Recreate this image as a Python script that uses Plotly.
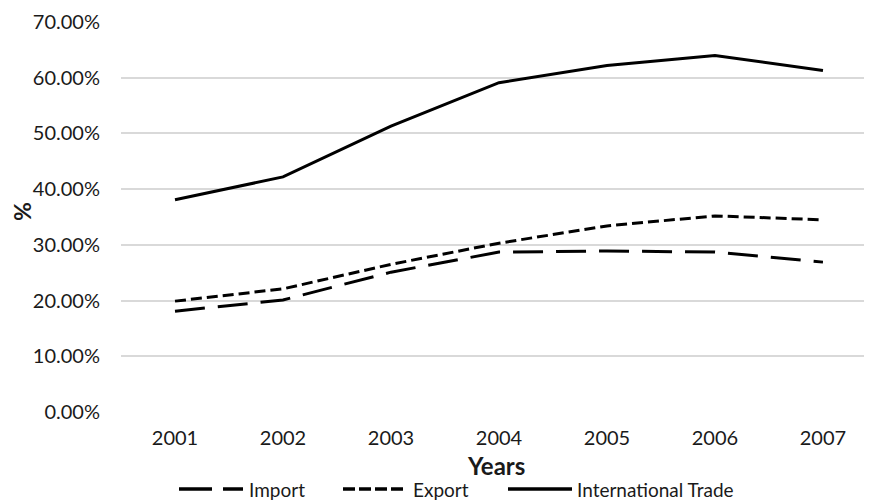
import plotly.graph_objects as go

years = [2001, 2002, 2003, 2004, 2005, 2006, 2007]
import_vals = [0.181, 0.201, 0.251, 0.287, 0.289, 0.287, 0.269]
export_vals = [0.199, 0.221, 0.265, 0.303, 0.334, 0.352, 0.345]
intl_trade = [0.381, 0.422, 0.513, 0.591, 0.622, 0.640, 0.613]
y_ticks = [0, 0.1, 0.2, 0.3, 0.4, 0.5, 0.6, 0.7]
series_names = ["Import", "Export", "International Trade"]
legend_dash = ["33px,11px", "12px,4px", "solid"]
plot_dash = ["30px,13px", "11px,5px", "solid"]

FONT = "Lato, 'Open Sans', sans-serif"
TXT = "#1a1a1a"

# page body has an 8px margin; plot area lands at screen x 121..872, y 22..412
L, T, PW, PH = 113, 14, 751, 390
W, H = 864, 493


def px_x(sx):  # screen x -> paper x
    return (sx - 121) / PW


def px_y(sy):  # screen y -> paper y
    return (412 - sy) / PH


fig = go.Figure()
for name, vals, dash in zip(series_names, [import_vals, export_vals, intl_trade], plot_dash):
    fig.add_trace(go.Scatter(x=years, y=vals, name=name, mode="lines",
                             line=dict(color="black", width=3, dash=dash)))

# custom legend (longer samples as in reference)
legend_items = [(179, 243, 248), (343, 403, 412), (508, 572, 576)]
ly = 489
for (x0, x1, tx), name, dash in zip(legend_items, series_names, legend_dash):
    fig.add_shape(type="line", xref="paper", yref="paper",
                  x0=px_x(x0), x1=px_x(x1), y0=px_y(ly), y1=px_y(ly),
                  line=dict(color="black", width=3.5, dash=dash))
    fig.add_annotation(xref="paper", yref="paper", x=px_x(tx), y=px_y(ly),
                       xanchor="left", yanchor="middle", showarrow=False, borderpad=0,
                       text=name, font=dict(family=FONT, size=19, color=TXT))

fig.add_annotation(xref="paper", yref="paper", x=px_x(496), y=px_y(465),
                   xanchor="center", yanchor="middle", showarrow=False,
                   text="<b>Years</b>", font=dict(family=FONT, size=24, color=TXT))
fig.add_annotation(xref="paper", yref="paper", x=px_x(22), y=px_y(212),
                   xanchor="center", yanchor="middle", showarrow=False, textangle=-90,
                   text="<b>%</b>", font=dict(family=FONT, size=23, color=TXT))

fig.update_layout(
    width=W, height=H,
    margin=dict(l=L, r=W - L - PW, t=T, b=H - T - PH, autoexpand=False),
    paper_bgcolor="white", plot_bgcolor="white",
    font=dict(family=FONT, size=20, color=TXT),
    showlegend=False,
    xaxis=dict(range=[2000.5, 2007.454], tickmode="array", tickvals=years,
               ticktext=[str(y) for y in years], showgrid=False, zeroline=False,
               showline=False, ticks="", ticklabelstandoff=12, automargin=False),
    yaxis=dict(range=[0, 0.7], tickmode="array", tickvals=y_ticks, tickformat=".2%",
               showgrid=True, gridcolor="#d9d9d9", gridwidth=1.5, zeroline=False,
               showline=False, ticks="", ticklabelstandoff=20, automargin=False),
)
fig.write_html("out.html")
